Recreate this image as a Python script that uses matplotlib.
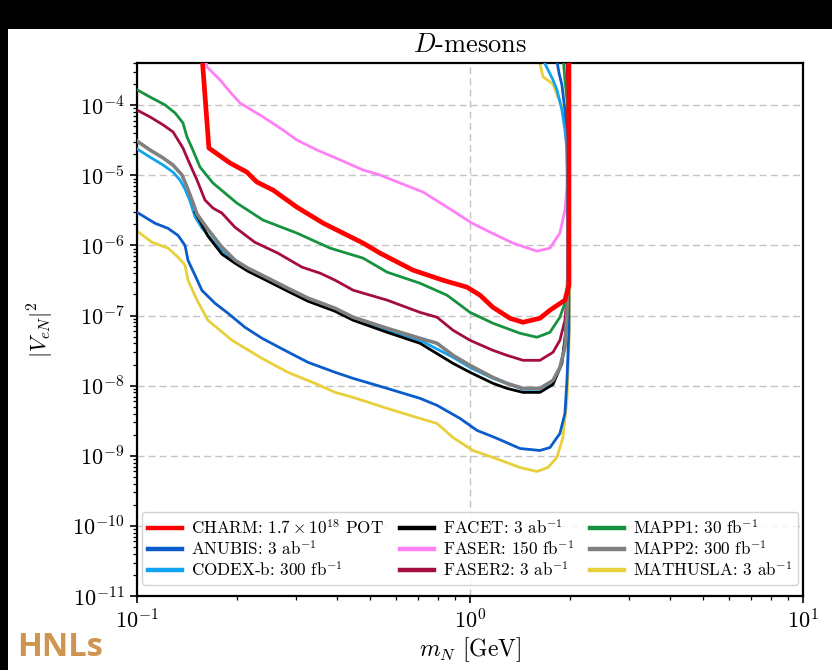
import matplotlib
matplotlib.use("Agg")
import matplotlib.pyplot as plt
from matplotlib.patches import Rectangle
from matplotlib.lines import Line2D

plt.rcParams["font.family"] = "serif"
plt.rcParams["font.serif"] = ["cmr10"]
plt.rcParams["mathtext.fontset"] = "cm"
plt.rcParams["axes.formatter.use_mathtext"] = True
plt.rcParams["axes.unicode_minus"] = False

# ---- sensitivity contours: (m_N [GeV], |V_eN|^2) ----
charm_m = [0.1567, 0.1644, 0.1902, 0.2138, 0.2291, 0.2561, 0.3020, 0.3622, 0.4775, 0.5370,
           0.6745, 0.8299, 0.9795, 1.072, 1.172, 1.318, 1.442, 1.622, 1.738, 1.928, 1.982, 1.982]
charm_v = [5.2e-4, 2.45e-5, 1.50e-5, 1.11e-5, 8.02e-6, 6.17e-6, 3.52e-6, 2.08e-6, 1.08e-6, 7.76e-7,
           4.44e-7, 3.19e-7, 2.54e-7, 1.95e-7, 1.31e-7, 9.15e-8, 8.02e-8, 9.15e-8, 1.19e-7, 1.66e-7, 2.71e-7, 5.2e-4]

anubis_m = [0.100, 0.1133, 0.1240, 0.1328, 0.1394, 0.1423, 0.1494, 0.1567, 0.1714, 0.1875, 0.2109,
            0.2374, 0.2780, 0.3263, 0.3936, 0.4457, 0.5636, 0.7079, 0.7962, 0.9333, 1.050, 1.205, 1.413,
            1.622, 1.738, 1.862, 1.928, 1.955, 1.982, 1.982, 1.955, 1.928, 1.888, 1.850, 1.812]
anubis_v = [2.97e-6, 2.07e-6, 1.75e-6, 1.39e-6, 1.00e-6, 6.12e-7, 3.74e-7, 2.28e-7, 1.50e-7, 1.08e-7, 6.81e-8,
            4.74e-8, 3.19e-8, 2.15e-8, 1.55e-8, 1.27e-8, 9.15e-9, 6.59e-9, 5.24e-9, 3.41e-9, 2.30e-9, 1.77e-9, 1.27e-9,
            1.19e-9, 1.31e-9, 2.08e-9, 4.02e-9, 1.19e-8, 6.17e-8, 8.57e-7, 2.30e-5, 8.57e-5, 1.95e-4, 2.89e-4, 5.2e-4]

codex_m = [0.100, 0.1094, 0.1198, 0.1283, 0.1346, 0.1394, 0.1443, 0.1494, 0.1567, 0.1691, 0.1875, 0.2153,
           0.2474, 0.2838, 0.3263, 0.3936, 0.4457, 0.5636, 0.7079, 0.8892, 1.000, 1.172, 1.442, 1.622,
           1.775, 1.862, 1.928, 1.955, 1.968, 1.955, 1.928, 1.888, 1.824, 1.775, 1.680, 1.657]
codex_v = [2.38e-5, 1.82e-5, 1.40e-5, 1.11e-5, 8.57e-6, 6.37e-6, 4.29e-6, 2.54e-6, 1.77e-6, 1.15e-6, 7.03e-7, 4.44e-7,
           3.19e-7, 2.30e-7, 1.66e-7, 1.19e-7, 8.85e-8, 6.17e-8, 4.44e-8, 2.54e-8, 1.82e-8, 1.27e-8, 8.85e-9, 8.85e-9,
           1.15e-8, 1.77e-8, 3.76e-8, 1.19e-7, 8.57e-7, 2.30e-5, 4.44e-5, 8.57e-5, 1.66e-4, 2.30e-4, 3.89e-4, 5.2e-4]

facet_m = [0.1494, 0.1633, 0.1799, 0.1968, 0.2153, 0.2474, 0.2838, 0.3263, 0.3936, 0.4457, 0.5636,
           0.7079, 0.8892, 1.000, 1.172, 1.291, 1.442, 1.622, 1.775, 1.888, 1.941, 1.968, 1.982, 1.982]
facet_v = [2.99e-6, 1.36e-6, 7.51e-7, 5.59e-7, 4.29e-7, 3.09e-7, 2.22e-7, 1.60e-7, 1.15e-7, 8.57e-8, 5.77e-8,
           4.02e-8, 2.08e-8, 1.55e-8, 1.08e-8, 9.15e-9, 8.02e-9, 8.02e-9, 1.04e-8, 2.08e-8, 6.17e-8, 1.82e-7, 4.44e-6, 5.2e-4]

faser_m = [0.1600, 0.1622, 0.1775, 0.1902, 0.2037, 0.2390, 0.2742, 0.3020, 0.3470, 0.4074, 0.4775,
           0.5370, 0.6166, 0.7228, 0.8531, 1.014, 1.148, 1.346, 1.589, 1.738, 1.862, 1.928, 1.955, 1.968, 1.982]
faser_v = [5.2e-4, 3.52e-4, 2.30e-4, 1.55e-4, 1.08e-4, 6.81e-5, 4.44e-5, 3.19e-5, 2.30e-5, 1.66e-5, 1.19e-5,
           1.01e-5, 7.76e-6, 5.77e-6, 3.52e-6, 2.08e-6, 1.55e-6, 1.08e-6, 8.29e-7, 9.15e-7, 1.50e-6, 3.19e-6, 6.81e-6, 1.66e-5, 5.2e-4]

faser2_m = [0.100, 0.1094, 0.1198, 0.1283, 0.1328, 0.1374, 0.1423, 0.1514, 0.1600, 0.1691, 0.1799, 0.1968,
            0.2259, 0.2650, 0.3130, 0.3548, 0.3936, 0.4457, 0.5636, 0.7079, 0.7962, 0.8892, 1.000, 1.172,
            1.291, 1.442, 1.622, 1.775, 1.862, 1.928, 1.955, 1.968, 1.968, 1.955]
faser2_v = [8.54e-5, 6.81e-5, 5.24e-5, 4.16e-5, 3.19e-5, 2.45e-5, 1.66e-5, 8.57e-6, 4.44e-6, 3.41e-6, 2.89e-6, 1.82e-6,
            1.11e-6, 7.76e-7, 4.90e-7, 4.02e-7, 3.19e-7, 2.30e-7, 1.66e-7, 1.11e-7, 9.46e-8, 6.17e-8, 4.44e-8, 3.19e-8,
            2.71e-8, 2.30e-8, 2.30e-8, 2.99e-8, 4.44e-8, 8.57e-8, 1.82e-7, 8.57e-7, 2.30e-5, 5.2e-4]

mapp1_m = [0.100, 0.1094, 0.1214, 0.1301, 0.1374, 0.1413, 0.1463, 0.1546, 0.1691, 0.1995, 0.2390, 0.3020,
           0.3802, 0.4775, 0.5636, 0.7079, 0.8531, 1.000, 1.172, 1.413, 1.589, 1.738, 1.862, 1.955,
           1.982, 1.982, 1.968, 1.955, 1.928, 1.902]
mapp1_v = [1.66e-4, 1.31e-4, 1.01e-4, 7.76e-5, 5.59e-5, 3.52e-5, 2.45e-5, 1.31e-5, 7.76e-6, 4.02e-6, 2.30e-6, 1.50e-6,
           9.15e-7, 6.59e-7, 4.16e-7, 2.89e-7, 1.95e-7, 1.11e-7, 7.76e-8, 5.59e-8, 4.90e-8, 5.77e-8, 9.46e-8, 1.82e-7,
           8.57e-7, 2.30e-5, 8.57e-5, 1.19e-4, 2.30e-4, 5.2e-4]

mapp2_m = [0.100, 0.1094, 0.1198, 0.1283, 0.1365, 0.1413, 0.1463, 0.1514, 0.1622, 0.1788, 0.1968, 0.2153,
           0.2474, 0.2838, 0.3263, 0.3936, 0.4457, 0.5636, 0.7079, 0.7962, 0.8892, 1.000, 1.172, 1.291,
           1.442, 1.622, 1.775, 1.862, 1.928, 1.955, 1.968, 1.982, 1.982]
mapp2_v = [3.08e-5, 2.30e-5, 1.77e-5, 1.40e-5, 1.01e-5, 6.81e-6, 4.44e-6, 2.80e-6, 1.77e-6, 9.77e-7, 6.17e-7, 4.74e-7,
           3.41e-7, 2.45e-7, 1.77e-7, 1.27e-7, 9.46e-8, 6.59e-8, 4.74e-8, 4.02e-8, 2.71e-8, 1.95e-8, 1.31e-8, 1.08e-8,
           9.15e-9, 9.15e-9, 1.19e-8, 1.82e-8, 3.52e-8, 1.08e-7, 2.54e-7, 4.44e-6, 5.2e-4]

mathusla_m = [0.100, 0.1109, 0.1240, 0.1328, 0.1394, 0.1423, 0.1514, 0.1633, 0.1928, 0.2374, 0.2838, 0.3423,
              0.3936, 0.4457, 0.5636, 0.7079, 0.7962, 0.8892, 1.021, 1.172, 1.413, 1.589, 1.714, 1.824,
              1.901, 1.955, 1.982, 1.995, 1.982, 1.955, 1.928, 1.888, 1.837, 1.775, 1.657, 1.622, 1.600]
mathusla_v = [1.60e-6, 1.11e-6, 9.15e-7, 6.81e-7, 5.24e-7, 3.19e-7, 1.66e-7, 8.57e-8, 4.44e-8, 2.45e-8, 1.55e-8, 1.08e-8,
              8.02e-9, 6.81e-9, 4.74e-9, 3.41e-9, 2.89e-9, 1.82e-9, 1.19e-9, 9.46e-10, 6.81e-10, 5.97e-10, 6.81e-10, 9.46e-10,
              1.82e-9, 6.17e-9, 3.52e-8, 3.19e-7, 4.44e-6, 3.19e-5, 5.59e-5, 9.46e-5, 1.31e-4, 2.01e-4, 2.54e-4, 3.89e-4, 5.2e-4]

labels = ["CHARM: $1.7\\times10^{18}$ POT", "ANUBIS: 3 ab$^{-1}$", "CODEX-b: 300 fb$^{-1}$",
          "FACET: 3 ab$^{-1}$", "FASER: 150 fb$^{-1}$", "FASER2: 3 ab$^{-1}$",
          "MAPP1: 30 fb$^{-1}$", "MAPP2: 300 fb$^{-1}$", "MATHUSLA: 3 ab$^{-1}$"]
colors = ["#FF0000", "#0A5CCB", "#10A4F0", "#000000", "#FF80F5", "#A50D3E",
          "#17923F", "#808080", "#E8CF3C"]
widths = [3.4, 2.0, 2.0, 2.0, 2.0, 2.0, 2.0, 2.6, 2.0]
series = [(charm_m, charm_v), (anubis_m, anubis_v), (codex_m, codex_v), (facet_m, facet_v),
          (faser_m, faser_v), (faser2_m, faser2_v), (mapp1_m, mapp1_v), (mapp2_m, mapp2_v),
          (mathusla_m, mathusla_v)]
zorders = [10, 3, 4, 5, 3, 3, 3, 6, 2]

fig = plt.figure(figsize=(8.32, 6.70), dpi=100)
fig.patch.set_facecolor("black")
fig.patches.append(Rectangle((8 / 832, 0), 1, (670 - 29) / 670, transform=fig.transFigure,
                             facecolor="white", edgecolor="none", zorder=-10))

ax = fig.add_axes([137 / 832, (670 - 596) / 670, 666 / 832, (596 - 63) / 670])
for (m, v), c, lw, z in zip(series, colors, widths, zorders):
    ax.plot(m, v, color=c, lw=lw, zorder=z, solid_joinstyle="round")

ax.set_xscale("log")
ax.set_yscale("log")
ax.set_xlim(0.1, 10)
ax.set_ylim(1e-11, 4e-4)
ax.grid(True, which="major", color="#c4c4c4", linestyle=(0, (5, 3)), lw=1.0)
ax.set_axisbelow(True)
ax.tick_params(which="major", labelsize=16, length=5, width=1.2, pad=4)
ax.tick_params(which="minor", length=3, width=0.9)
for s in ax.spines.values():
    s.set_linewidth(1.6)

ax.set_title("$D$-mesons", fontsize=19, pad=8)
ax.set_xlabel("$m_N$ [GeV]", fontsize=17, labelpad=2)
ax.set_ylabel("$|V_{eN}|^2$", fontsize=16, labelpad=12)

handles = [Line2D([], [], color=c, lw=3.2) for c in colors]
ax.legend(handles, labels, loc="lower center", ncol=3, fontsize=12.3, frameon=True,
          framealpha=0.85, edgecolor="#cccccc", borderpad=0.35, handlelength=2.0,
          columnspacing=0.9, labelspacing=0.12, handletextpad=0.55,
          bbox_to_anchor=(0.5, 0.005))

fig.text(17 / 832, (670 - 664) / 670, "HNLs", fontsize=23.5, fontweight="bold",
         family="Open Sans", color="#CF944F", va="bottom", ha="left")

fig.savefig("out.png", dpi=100, facecolor=fig.get_facecolor())
